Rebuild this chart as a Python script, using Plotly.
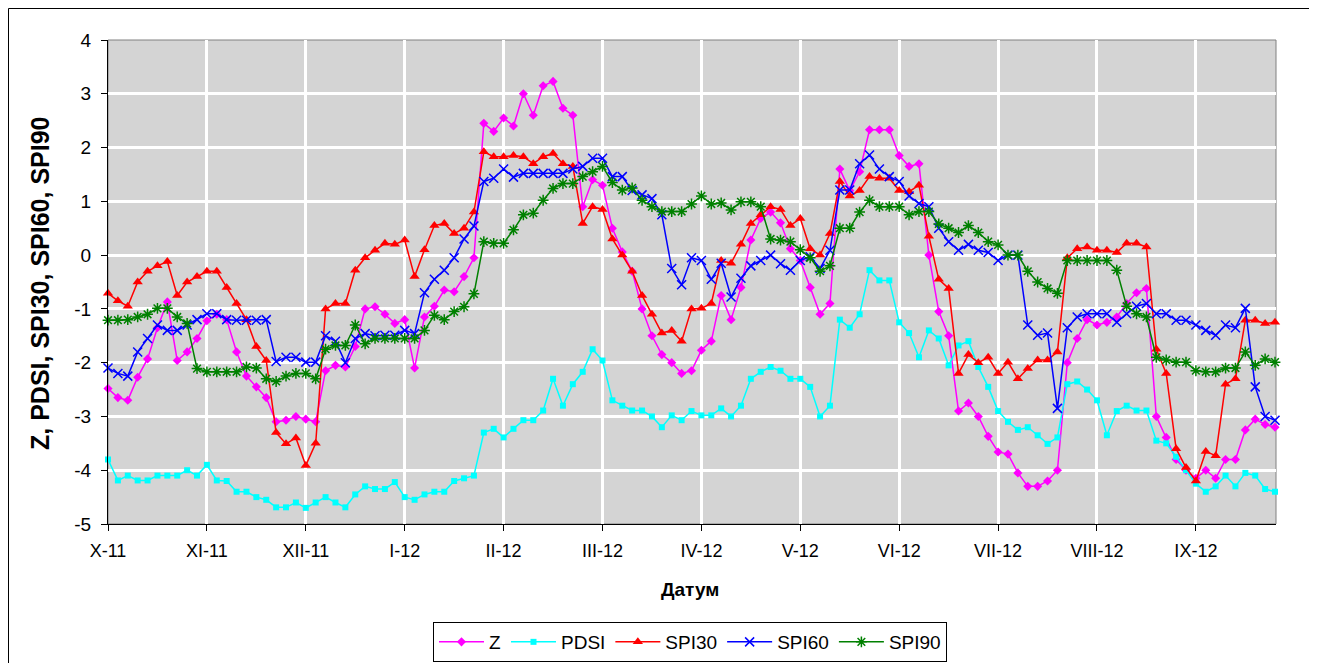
import numpy as np
import plotly.graph_objects as go

# Month tick labels (equally spaced, one every 30 sample-days)
tick_labels = ["X-11", "XI-11", "XII-11", "I-12", "II-12", "III-12",
               "IV-12", "V-12", "VI-12", "VII-12", "VIII-12", "IX-12"]

# Series values read every 3rd day
Z = [-2.48, -2.65, -2.7, -2.27, -1.93, -1.35, -0.87, -1.96, -1.8, -1.55,
     -1.22, -1.1, -1.2, -1.8, -2.25, -2.45, -2.65, -3.1, -3.07, -3.0,
     -3.05, -3.1, -2.15, -2.05, -2.08, -1.7, -1.0, -0.96, -1.1, -1.27,
     -1.2, -2.1, -1.15, -0.95, -0.65, -0.68, -0.4, -0.05, 2.45, 2.3,
     2.55, 2.4, 3.0, 2.6, 3.15, 3.23, 2.73, 2.6, 0.9, 1.4,
     1.3, 0.5, 0.06, -0.3, -1.0, -1.5, -1.85, -2.0, -2.2, -2.15,
     -1.77, -1.6, -0.75, -1.2, -0.6, 0.28, 0.68, 0.8, 0.6, 0.12,
     -0.1, -0.6, -1.1, -0.9, 1.6, 1.2, 1.55, 2.33, 2.33, 2.33,
     1.85, 1.65, 1.7, 0.0, -1.05, -1.5, -2.9, -2.75, -3.0, -3.37,
     -3.66, -3.7, -4.05, -4.3, -4.3, -4.2, -4.0, -2.0, -1.55, -1.2,
     -1.3, -1.25, -1.15, -0.9, -0.7, -0.62, -3.0, -3.39, -3.8, -4.0,
     -4.15, -4.0, -4.15, -3.8, -3.8, -3.25, -3.05, -3.15, -3.2]

PDSI = [-3.8, -4.19, -4.1, -4.19, -4.19, -4.1, -4.1, -4.1, -4.0, -4.1,
        -3.9, -4.19, -4.2, -4.4, -4.4, -4.5, -4.55, -4.69, -4.69, -4.6,
        -4.7, -4.6, -4.5, -4.6, -4.69, -4.45, -4.3, -4.35, -4.35, -4.22,
        -4.5, -4.55, -4.45, -4.4, -4.4, -4.2, -4.15, -4.1, -3.3, -3.23,
        -3.39, -3.23, -3.07, -3.07, -2.89, -2.3, -2.8, -2.4, -2.17, -1.75,
        -1.96, -2.7, -2.8, -2.89, -2.89, -3.0, -3.2, -2.98, -3.07, -2.9,
        -2.98, -2.98, -2.85, -3.0, -2.8, -2.3, -2.17, -2.08, -2.15, -2.3,
        -2.3, -2.45, -3.0, -2.8, -1.2, -1.35, -1.1, -0.28, -0.47, -0.47,
        -1.25, -1.45, -1.9, -1.4, -1.55, -2.05, -1.68, -1.6, -2.08, -2.45,
        -2.9, -3.1, -3.25, -3.2, -3.35, -3.51, -3.39, -2.4, -2.35, -2.5,
        -2.7, -3.35, -2.9, -2.8, -2.89, -2.89, -3.45, -3.5, -3.75, -4.0,
        -4.25, -4.4, -4.3, -4.1, -4.3, -4.05, -4.1, -4.35, -4.4]

SPI30 = [-0.71, -0.85, -0.95, -0.5, -0.3, -0.2, -0.12, -0.75, -0.5, -0.4,
         -0.3, -0.3, -0.6, -0.9, -1.2, -1.7, -1.96, -3.3, -3.51, -3.4,
         -3.91, -3.5, -1.0, -0.9, -0.9, -0.28, -0.05, 0.09, 0.22, 0.2,
         0.28, -0.4, 0.1, 0.55, 0.59, 0.4, 0.5, 0.8, 1.92, 1.83,
         1.83, 1.85, 1.83, 1.7, 1.83, 1.89, 1.7, 1.65, 0.59, 0.9,
         0.85, 0.3, 0.0, -0.3, -0.75, -1.1, -1.45, -1.4, -1.6, -1.0,
         -0.99, -0.9, -0.1, -0.15, 0.2, 0.59, 0.75, 0.9, 0.85, 0.55,
         0.68, 0.12, 0.0, 0.4, 1.37, 1.1, 1.2, 1.46, 1.43, 1.43,
         1.2, 1.18, 1.3, 0.35, -0.45, -0.62, -2.2, -1.85, -2.0, -1.9,
         -2.2, -1.99, -2.3, -2.11, -1.95, -1.95, -1.8, -0.05, 0.12, 0.15,
         0.09, 0.09, 0.05, 0.22, 0.22, 0.15, -1.75, -2.2, -3.6, -3.95,
         -4.2, -3.65, -3.73, -2.4, -2.3, -1.21, -1.21, -1.27, -1.25]

SPI60 = [-2.1, -2.2, -2.25, -1.8, -1.55, -1.3, -1.4, -1.4, -1.3, -1.2,
         -1.09, -1.09, -1.2, -1.21, -1.21, -1.21, -1.2, -1.98, -1.9, -1.9,
         -1.99, -1.99, -1.5, -1.6, -2.0, -1.55, -1.46, -1.5, -1.49, -1.49,
         -1.4, -1.46, -0.7, -0.45, -0.28, -0.05, 0.3, 0.54, 1.37, 1.43,
         1.6, 1.45, 1.52, 1.52, 1.52, 1.52, 1.52, 1.6, 1.65, 1.8,
         1.8, 1.46, 1.46, 1.2, 1.12, 1.05, 0.75, -0.25, -0.55, -0.05,
         -0.1, -0.45, -0.15, -0.78, -0.43, -0.2, -0.1, 0.0, -0.16, -0.28,
         -0.1, -0.03, -0.25, 0.09, 1.21, 1.21, 1.7, 1.86, 1.6, 1.46,
         1.37, 1.1, 0.96, 0.9, 0.5, 0.25, 0.09, 0.2, 0.09, 0.05,
         -0.1, 0.0, 0.0, -1.3, -1.49, -1.45, -2.85, -1.35, -1.15, -1.09,
         -1.09, -1.09, -1.25, -1.09, -0.95, -0.9, -1.09, -1.09, -1.21, -1.21,
         -1.3, -1.4, -1.49, -1.3, -1.35, -0.99, -2.45, -3.0, -3.07]

SPI90 = [-1.21, -1.21, -1.2, -1.15, -1.1, -0.99, -0.99, -1.15, -1.27, -2.11,
         -2.17, -2.17, -2.17, -2.17, -2.08, -2.1, -2.3, -2.35, -2.25, -2.2,
         -2.2, -2.3, -1.75, -1.68, -1.68, -1.3, -1.65, -1.55, -1.55, -1.55,
         -1.55, -1.55, -1.4, -1.12, -1.2, -1.05, -0.96, -0.72, 0.25, 0.22,
         0.22, 0.47, 0.75, 0.78, 1.02, 1.24, 1.33, 1.33, 1.46, 1.55,
         1.65, 1.35, 1.21, 1.25, 1.02, 0.9, 0.81, 0.81, 0.81, 0.95,
         1.1, 0.95, 0.97, 0.84, 0.99, 0.99, 0.9, 0.3, 0.28, 0.25,
         0.1, -0.05, -0.3, -0.2, 0.5, 0.5, 0.8, 1.02, 0.9, 0.9,
         0.9, 0.75, 0.81, 0.81, 0.58, 0.5, 0.42, 0.55, 0.42, 0.25,
         0.19, 0.0, 0.0, -0.3, -0.5, -0.62, -0.71, -0.1, -0.1, -0.1,
         -0.1, -0.1, -0.28, -0.95, -1.09, -1.15, -1.9, -1.95, -1.99, -1.99,
         -2.15, -2.17, -2.17, -2.1, -2.1, -1.8, -2.05, -1.93, -1.99]

STEP = 3          # sample spacing (category days)
PER_TICK = 30     # category days per month tick
days = np.arange(len(Z)) * STEP
tick_vals = [k * PER_TICK for k in range(len(tick_labels))]

FONT = "Liberation Sans, Arial, sans-serif"

series = [
    ("Z", Z, "#FF00FF", dict(symbol="diamond", size=7, line=dict(width=0))),
    ("PDSI", PDSI, "#00FFFF", dict(symbol="square", size=6, line=dict(width=0))),
    ("SPI30", SPI30, "#FF0000", dict(symbol="triangle-up", size=9, line=dict(width=0))),
    ("SPI60", SPI60, "#0000FF", dict(symbol="x-thin", size=9, line=dict(width=1.5, color="#0000FF"))),
    ("SPI90", SPI90, "#008000", dict(symbol="asterisk", size=9, line=dict(width=1.5, color="#008000"))),
]

fig = go.Figure()
for name, vals, color, mk in series:
    fig.add_trace(go.Scatter(
        x=days, y=vals, name=name, mode="lines+markers",
        line=dict(color=color, width=1.5),
        marker=dict(color=color, **mk),
        cliponaxis=False,
    ))

# figure canvas (svg) coordinates: plot area spans x 100..1268, y 32..516
PL, PR, PT, PB = 100, 1268, 32, 516
def px(v):
    return (v - PL) / (PR - PL)
def py(v):
    return (PB - v) / (PB - PT)

fig.update_layout(
    width=1317, height=663,
    margin=dict(l=PL, r=1317 - PR, t=PT, b=663 - PB, autoexpand=False),
    paper_bgcolor="white",
    plot_bgcolor="#d4d4d4",
    font=dict(family=FONT, size=18, color="black"),
    showlegend=True,
    legend=dict(
        orientation="h", xref="container", yref="container",
        x=682 / 1317, y=1 - 614 / 663, xanchor="center", yanchor="top",
        bordercolor="black", borderwidth=1, bgcolor="white",
        font=dict(family=FONT, size=19), itemwidth=45, tracegroupgap=0,
    ),
    xaxis=dict(
        range=[0, 354.3], tickmode="array", tickvals=tick_vals, ticktext=tick_labels,
        showgrid=True, gridcolor="white", gridwidth=2.5,
        showline=True, linecolor="black", linewidth=1,
        ticks="outside", ticklen=6, tickcolor="black",
        ticklabelstandoff=4, zeroline=False, automargin=False,
        tickfont=dict(family=FONT, size=18),
    ),
    yaxis=dict(
        range=[-5, 4], tickmode="array", tickvals=list(range(-5, 5)),
        ticktext=[str(v) for v in range(-5, 5)],
        showgrid=True, gridcolor="white", gridwidth=2.5,
        showline=True, linecolor="black", linewidth=1,
        ticks="outside", ticklen=6, tickcolor="black",
        ticklabelstandoff=6, zeroline=False, automargin=False,
        tickfont=dict(family=FONT, size=19),
    ),
    annotations=[
        dict(text="<b>Z, PDSI, SPI30, SPI60, SPI90</b>", xref="paper", yref="paper",
             x=px(32), y=py(275), textangle=-90, showarrow=False,
             font=dict(family=FONT, size=25), xanchor="center", yanchor="middle"),
        dict(text="<b>Датум</b>", xref="paper", yref="paper",
             x=px(682), y=py(582), showarrow=False,
             font=dict(family=FONT, size=19), xanchor="center", yanchor="middle"),
    ],
    shapes=[
        dict(type="rect", xref="paper", yref="paper", x0=0, y0=0, x1=1, y1=1,
             line=dict(color="#808080", width=1), layer="below"),
        # outer chart border (left, top, right)
        dict(type="line", xref="paper", yref="paper", x0=px(0.5), x1=px(0.5),
             y0=py(0.5), y1=py(662), line=dict(color="black", width=1), layer="above"),
        dict(type="line", xref="paper", yref="paper", x0=px(0.5), x1=px(1304),
             y0=py(0.5), y1=py(0.5), line=dict(color="black", width=1), layer="above"),
        dict(type="line", xref="paper", yref="paper", x0=px(1304), x1=px(1304),
             y0=py(0.5), y1=py(662), line=dict(color="black", width=1), layer="above"),
    ],
)

fig.write_html("out.html")
